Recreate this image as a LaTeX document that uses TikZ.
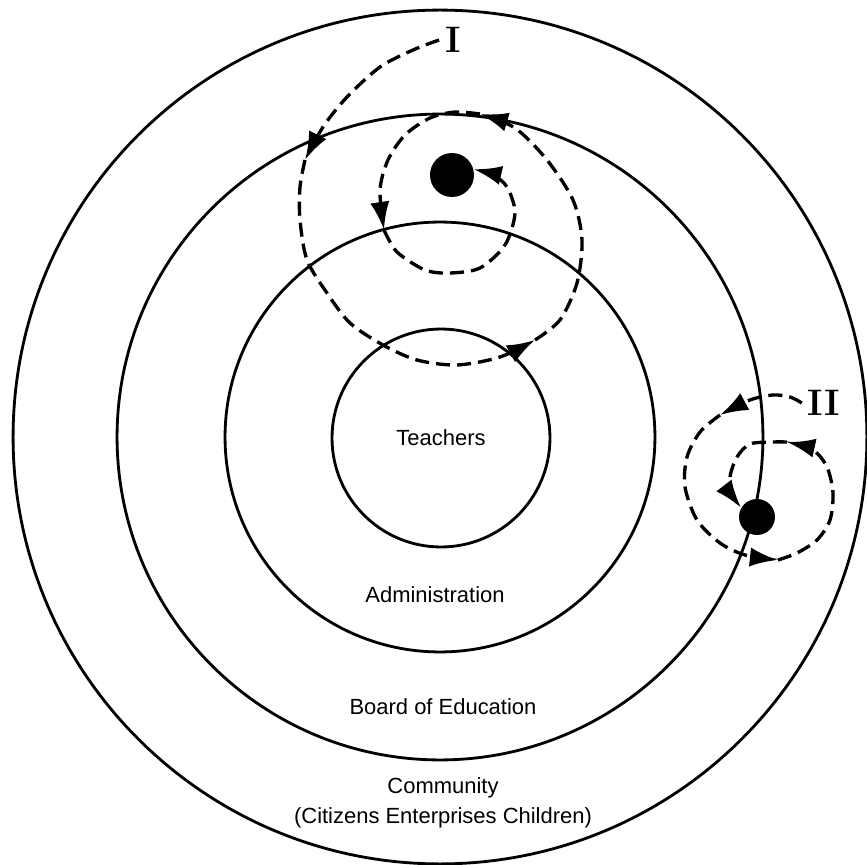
\documentclass[tikz,border=0pt]{standalone}
\usepackage{fontspec}
\newfontfamily\ringfont{Liberation Sans}
\usetikzlibrary{arrows.meta}

\begin{document}
\begin{tikzpicture}[
    x=0.02cm, y=-0.02cm,
    ring/.style={draw, circle, line width=1.6pt, inner sep=0pt},
    tag/.style={font=\ringfont\fontsize{12.5}{15}\selectfont, align=center},
    numeral/.style={font=\fontsize{21}{24}\selectfont\bfseries},
    dot/.style={circle, fill, inner sep=0pt},
    track/.style={line width=1.9pt, dash pattern=on 8pt off 4pt, -{Latex[length=16pt,width=11pt]}}
]
\useasboundingbox (0,0) rectangle (867,865);
\node[ring, minimum size=17.08cm] (community) at (440,437) {};
\node[ring, minimum size=12.92cm] (board) at (440,437) {};
\node[ring, minimum size=8.6cm] (admin) at (440,437) {};
\node[ring, tag, minimum size=4.36cm] (teachers) at (441,438) {Teachers};
\node[tag] (adminlbl) at (435,595) {Administration};
\node[tag] (boardlbl) at (443,707) {Board of Education};
\node[tag] (communitylbl) at (443,803) {Community\\[2pt](Citizens Enterprises Children)};
\node[dot, minimum size=0.88cm] (dotI) at (452,175) {};
\node[dot, minimum size=0.72cm] (dotII) at (757,517) {};
\node[numeral] (labI) at (453,40) {I};
\node[numeral] (labII) at (824,403) {II};
\draw[track] plot[smooth] coordinates {(labI.west) (413,50) (380,67) (347,97) (323,127) (305,160)};
\draw[track] plot[smooth] coordinates {(305,160) (300,187) (300,220) (307,260) (327,293) (350,323) (383,345) (417,360) (457,365) (500,357) (535,340)};
\draw[track] plot[smooth] coordinates {(535,340) (560,320) (577,283) (582,240) (573,200) (547,160) (515,128) (480,114)};
\draw[track] plot[smooth] coordinates {(480,114) (455,112) (430,118) (405,135) (388,160) (380,190) (384,230)};
\draw[track] plot[smooth] coordinates {(384,230) (397,252) (425,270) (450,273) (480,268) (505,245) (515,213) (507,187) (493,175) (dotI.15)};
\draw[track] plot[smooth] coordinates {(labII.west) (790,397) (773,395) (750,400) (720,415)};
\draw[track] plot[smooth] coordinates {(720,415) (700,432) (687,457) (685,487) (697,520) (720,543) (745,555) (778,560)};
\draw[track] plot[smooth] coordinates {(778,560) (797,553) (817,540) (830,520) (833,493) (827,467) (813,450) (787,442)};
\draw[track] plot[smooth] coordinates {(787,442) (773,442) (750,444) (737,457) (730,477) (733,495) (dotII.150)};
\end{tikzpicture}
\end{document}
